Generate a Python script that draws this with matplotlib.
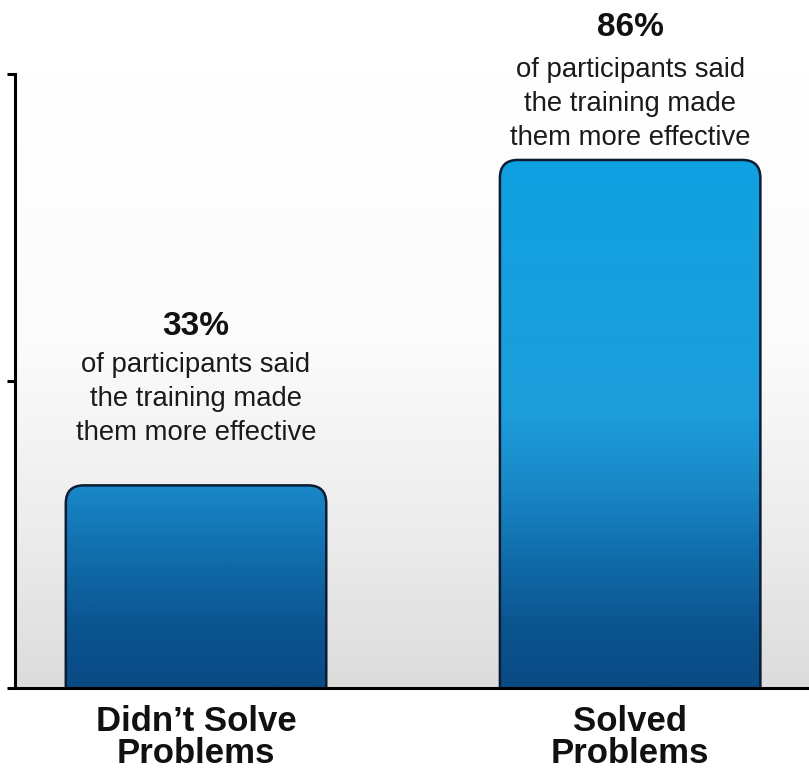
import numpy as np
import matplotlib
matplotlib.use("Agg")
import matplotlib.pyplot as plt
from matplotlib.patches import FancyBboxPatch
from matplotlib.colors import LinearSegmentedColormap

# ---- data ----
categories = ["Didn\u2019t Solve\nProblems", "Solved\nProblems"]
values = [33, 86]
value_labels = ["33%", "86%"]
captions = ["of participants said\nthe training made\nthem more effective",
            "of participants said\nthe training made\nthem more effective"]
yticks = [0, 50, 100]

# ---- style ----
plt.rcParams['font.family'] = ['Liberation Sans', 'DejaVu Sans']
W, H = 809, 770
fig = plt.figure(figsize=(W / 100, H / 100), dpi=100)
fig.patch.set_facecolor('white')

ax_left, ax_right, ax_top, ax_bottom = 15, 809, 74, 688
ax = fig.add_axes([ax_left / W, (H - ax_bottom) / H,
                   (ax_right - ax_left) / W, (ax_bottom - ax_top) / H])

xlim = (-0.417, 1.412)
ylim = (0, 100)

# background gradient (white at top -> light gray at bottom)
bg_cmap = LinearSegmentedColormap.from_list(
    'bg', [(0.0, '#dcdcdc'), (0.25, '#ececec'), (0.55, '#fbfbfb'), (1.0, '#ffffff')])
bg = np.linspace(0, 1, 256).reshape(-1, 1)
ax.imshow(bg, extent=[xlim[0], xlim[1], ylim[0], ylim[1]], origin='lower',
          aspect='auto', cmap=bg_cmap, vmin=0, vmax=1, zorder=0)

# bar gradient (by value)
bar_cmap = LinearSegmentedColormap.from_list(
    'bar', [(0.0, '#0a4a85'), (0.10, '#0b5590'), (0.20, '#106aa8'),
            (0.33, '#1a88c8'), (0.45, '#1d9edb'), (0.70, '#16a0df'),
            (1.0, '#08a2e4')])

ax.set_xlim(*xlim)
ax.set_ylim(*ylim)

# aspect for rounded corners
fig.canvas.draw()
p0 = ax.transData.transform((0, 0))
p1 = ax.transData.transform((1, 1))
px_x = p1[0] - p0[0]
px_y = p1[1] - p0[1]
aspect = px_x / px_y
r = 18 / px_x

bar_width = 0.6
pct_offsets = [108, 89]
cap_offsets = [33, 11]
for i, v in enumerate(values):
    x0 = i - bar_width / 2
    patch = FancyBboxPatch((x0, -10), bar_width, v + 10,
                           boxstyle=f"round,pad=0,rounding_size={r}",
                           mutation_aspect=aspect,
                           facecolor='none', edgecolor='#0b1c33',
                           linewidth=1.8, zorder=3)
    ax.add_patch(patch)
    grad = np.linspace(0, v, 256).reshape(-1, 1)
    im = ax.imshow(grad, extent=[x0, x0 + bar_width, 0, v], origin='lower',
                   aspect='auto', cmap=bar_cmap, vmin=0, vmax=100, zorder=2)
    im.set_clip_path(patch)
    ax.annotate(value_labels[i], xy=(i, v), xytext=(0, pct_offsets[i]),
                textcoords='offset points', ha='center', va='baseline',
                fontsize=24, fontweight='bold', color='#111111', annotation_clip=False)
    ax.annotate(captions[i], xy=(i, v), xytext=(0, cap_offsets[i]),
                textcoords='offset points', ha='center', va='baseline',
                fontsize=19.8, color='#1a1a1a', linespacing=1.38, annotation_clip=False)

ax.set_xlim(*xlim)
ax.set_ylim(*ylim)

ax.set_xticks([0, 1], categories, fontsize=25, fontweight='bold', linespacing=0.98)
ax.tick_params(axis='x', length=0, pad=12, colors='#111111')
ax.set_yticks(yticks, labels=[])
ax.tick_params(axis='y', length=6, width=2.2, direction='out', color='black')

for s in ['top', 'right']:
    ax.spines[s].set_visible(False)
for s in ['left', 'bottom']:
    ax.spines[s].set_linewidth(2.2)
    ax.spines[s].set_color('black')
    ax.spines[s].set_zorder(5)

fig.savefig('out.png', dpi=100)
